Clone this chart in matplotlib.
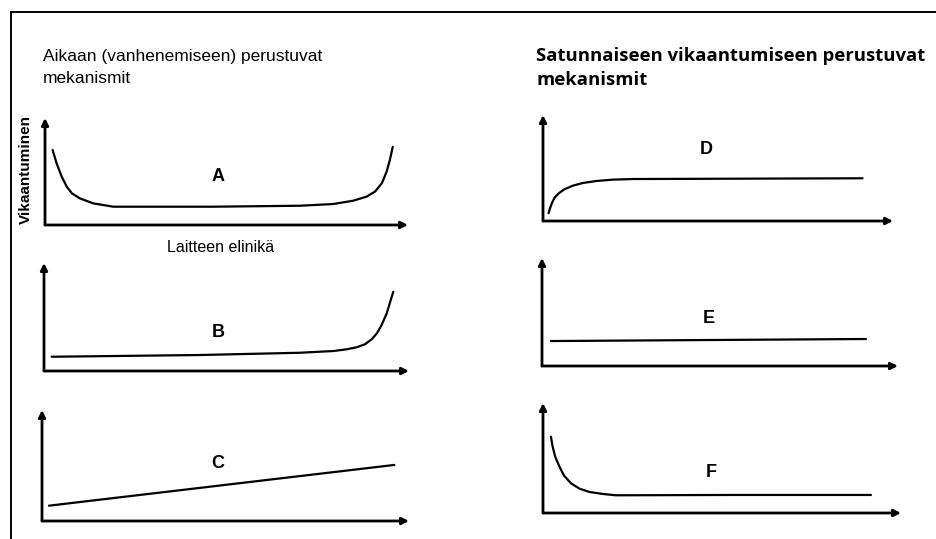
import matplotlib
matplotlib.use("Agg")
import matplotlib.pyplot as plt
from matplotlib.lines import Line2D

plt.rcParams["font.family"] = ["Liberation Sans", "DejaVu Sans"]

W, H = 936, 539

# Failure-rate curves, in percent of each panel's time and rate range
a_time = [2.1, 3.2, 4.6, 6.0, 7.4, 9.6, 13.3, 18.8, 46.3, 70.2, 79.4,
          84.9, 88.6, 90.9, 92.8, 94.1, 95.0, 95.8]
a_rate = [70.1, 57.6, 45.2, 35.8, 29.6, 24.9, 20.2, 17.1, 17.1, 18.0, 19.6,
          22.7, 26.5, 31.2, 39.0, 49.8, 60.7, 73.1]

b_time = [2.1, 42.7, 70.1, 79.3, 82.9, 85.7, 87.9, 89.8, 91.2, 92.5, 93.9,
          95.0, 95.7]
b_rate = [13.2, 14.8, 16.9, 18.5, 20.1, 22.0, 24.7, 29.4, 34.9, 42.6, 53.4,
          65.7, 73.4]

c_time = [1.9, 96.0]
c_rate = [13.8, 50.5]

d_time = [1.6, 2.0, 2.6, 3.3, 4.5, 6.1, 8.5, 11.3, 15.1, 19.9, 25.6, 91.3]
d_rate = [7.3, 12.0, 17.3, 22.0, 26.1, 29.9, 33.3, 35.8, 37.7, 39.0, 39.6, 40.3]

e_time = [2.5, 91.0]
e_rate = [23.1, 25.0]

f_time = [2.2, 2.7, 3.4, 4.6, 5.9, 7.8, 10.2, 13.0, 16.7, 20.4, 53.0, 91.6]
f_rate = [69.4, 60.3, 51.2, 42.1, 33.9, 27.0, 22.1, 19.1, 17.3, 16.1, 16.4, 16.4]

letters = ["A", "B", "C", "D", "E", "F"]
letter_pos = [(47.7, 45.0), (47.7, 36.0), (48.0, 52.0),
              (46.6, 67.0), (46.9, 44.4), (46.9, 36.4)]

title_left = "Aikaan (vanhenemiseen) perustuvat\nmekanismit"
title_right = "Satunnaiseen vikaantumiseen perustuvat\nmekanismit"
ylabel = "Vikaantuminen"
xlabel = "Laitteen elinikä"

# Panel frames in pixels: origin x, origin y, width, height
frames = [
    (45, 225, 363, 107),
    (44, 371, 365, 108),
    (42, 521, 367, 111),
    (543, 221, 350, 106),
    (542, 366, 356, 108),
    (543, 513, 358, 110),
]
curves = [(a_time, a_rate), (b_time, b_rate), (c_time, c_rate),
          (d_time, d_rate), (e_time, e_rate), (f_time, f_rate)]

fig = plt.figure(figsize=(W / 100, H / 100), dpi=100)
fig.patch.set_facecolor("white")


def fx(px):
    return px / W


def fy(py):
    return 1 - py / H


# Frame lines along the top and left edges
fig.add_artist(Line2D([fx(11), fx(936)], [fy(12), fy(12)], color="black",
                      lw=1.4, transform=fig.transFigure))
fig.add_artist(Line2D([fx(11), fx(11)], [fy(12), fy(539)], color="black",
                      lw=1.4, transform=fig.transFigure))

arrow = dict(arrowstyle="-|>", color="black", lw=2.0, mutation_scale=10,
             shrinkA=0, shrinkB=0)

for (ox, oy, w, h), (t, r), lab, (lx, ly) in zip(frames, curves, letters, letter_pos):
    ax = fig.add_axes([fx(ox), fy(oy), w / W, h / H])
    ax.set_xlim(0, 100)
    ax.set_ylim(0, 100)
    ax.axis("off")
    ax.annotate("", xy=(1, 0), xytext=(0, 0), xycoords="axes fraction",
                arrowprops=arrow)
    ax.annotate("", xy=(0, 1), xytext=(0, 0), xycoords="axes fraction",
                arrowprops=arrow)
    ax.plot(t, r, color="black", lw=1.6, solid_capstyle="round",
            solid_joinstyle="round", clip_on=False)
    ax.text(lx, ly, lab, ha="center", va="center", fontsize=13,
            fontweight="bold")

fig.text(fx(43), fy(49), title_left, ha="left", va="top", fontsize=12.5,
         linespacing=1.6)
fig.text(fx(536), fy(47), title_right, ha="left", va="top", fontsize=13.3,
         fontweight="bold", linespacing=1.45,
         family=["Open Sans", "Liberation Sans"])
fig.text(fx(26), fy(170), ylabel, ha="center", va="center", rotation=90,
         fontsize=11, fontweight="bold")
fig.text(fx(221), fy(248), xlabel, ha="center", va="center", fontsize=11.5)

fig.savefig("out.png", dpi=100, facecolor="white")
